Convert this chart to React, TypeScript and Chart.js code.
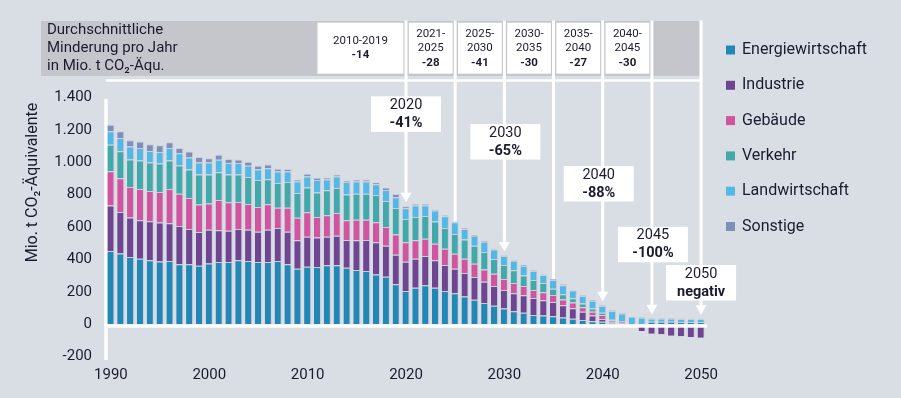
import React, { useEffect, useRef } from 'react';
import { Chart, registerables } from 'chart.js';

Chart.register(...registerables);

const BG = '#d9dde4';
const INK = '#1b1b2f';
const FONT = 'Roboto';

const years = [
  '1990','1991','1992','1993','1994','1995','1996','1997','1998','1999',
  '2000','2001','2002','2003','2004','2005','2006','2007','2008','2009',
  '2010','2011','2012','2013','2014','2015','2016','2017','2018','2019',
  '2020','2021','2022','2023','2024','2025','2026','2027','2028','2029',
  '2030','2031','2032','2033','2034','2035','2036','2037','2038','2039',
  '2040','2041','2042','2043','2044','2045','2046','2047','2048','2049',
  '2050',
];

const energie = [
  452, 437, 415, 405, 396, 388, 390, 370, 370, 362,
  376, 384, 384, 396, 390, 384, 384, 390, 370, 343,
  355, 353, 364, 364, 349, 335, 329, 308, 294, 247,
  206, 226, 241, 226, 206, 192, 171, 151, 132, 114,
  97, 81, 71, 58, 54, 50, 42, 34, 26, 19,
  15, 5, 3, 0, 0, 15, 15, 15, 14, 14,
  14,
];
const industrie = [
  282, 256, 244, 237, 240, 240, 234, 237, 219, 207,
  207, 197, 193, 193, 193, 187, 199, 205, 201, 176,
  185, 183, 176, 182, 172, 184, 192, 199, 191, 182,
  180, 179, 180, 170, 160, 151, 146, 141, 131, 123,
  115, 111, 108, 105, 95, 88, 76, 65, 51, 35,
  18, 6, 4, -10, -41, -59, -61, -70, -74, -78,
  -83,
];
const gebaeude = [
  211, 209, 188, 193, 187, 188, 211, 199, 191, 170,
  162, 186, 176, 166, 160, 153, 158, 125, 149, 138,
  151, 127, 133, 141, 121, 127, 125, 123, 116, 125,
  121, 114, 107, 101, 100, 92, 88, 82, 76, 75,
  68, 63, 58, 49, 49, 43, 35, 35, 29, 23,
  24, 12, 8, 0, 0, 0, 0, 0, 0, 0,
  0,
];
const verkehr = [
  164, 166, 170, 176, 176, 177, 176, 174, 176, 186,
  180, 172, 172, 170, 166, 166, 155, 152, 158, 153,
  154, 151, 154, 154, 160, 160, 160, 168, 160, 164,
  143, 144, 141, 137, 129, 123, 118, 111, 107, 91,
  86, 78, 65, 62, 57, 39, 32, 27, 22, 20,
  14, 5, 6, 0, 0, 0, 0, 0, 0, 0,
  0,
];
const landwirtschaft = [
  82, 82, 80, 78, 71, 71, 78, 76, 74, 74,
  74, 76, 70, 70, 69, 66, 68, 71, 65, 72,
  68, 76, 67, 72, 76, 76, 76, 66, 68, 66,
  66, 71, 65, 68, 72, 72, 66, 61, 63, 59,
  55, 59, 58, 55, 49, 54, 56, 47, 47, 49,
  42, 54, 46, 46, 41, 20, 20, 20, 19, 19,
  19,
];
const sonstige = [
  41, 41, 39, 39, 41, 41, 35, 33, 36, 33,
  26, 31, 26, 22, 25, 22, 22, 17, 15, 10,
  16, 15, 11, 10, 8, 10, 12, 12, 16, 20,
  12, 9, 9, 6, 6, 4, 4, 6, 6, 4,
  4, 4, 6, 4, 4, 4, 6, 4, 4, 5,
  4, 4, 4, 2, 2, 2, 2, 2, 2, 2,
  2,
];

const sectorLabels = ['Energiewirtschaft', 'Industrie', 'Gebäude', 'Verkehr', 'Landwirtschaft', 'Sonstige'];
const sectorColors = ['#2287b5', '#6f4591', '#d0559e', '#41a9aa', '#53b8e4', '#7f8fbb'];
const sectorValues = [energie, industrie, gebaeude, verkehr, landwirtschaft, sonstige];

const yTicks = [-200, 0, 200, 400, 600, 800, 1000, 1200, 1400];

// header: average reduction per year
const headerTitle = ['Durchschnittliche', 'Minderung pro Jahr', 'in Mio. t CO₂-Äqu.'];
const headerSpans = [[2011, 2020], [2020, 2025], [2025, 2030], [2030, 2035], [2035, 2040], [2040, 2045]];
const headerLabels = [['2010-2019'], ['2021-', '2025'], ['2025-', '2030'], ['2030-', '2035'], ['2035-', '2040'], ['2040-', '2045']];
const headerValues = ['-14', '-28', '-41', '-30', '-27', '-30'];

// milestones
const markerYears = [2020, 2025, 2030, 2035, 2040, 2045, 2050];
const arrowYears = [2020, 2030, 2040, 2045, 2050];
const noteYears = [2020, 2030, 2040, 2045, 2050];
const noteValues = ['-41%', '-65%', '-88%', '-100%', 'negativ'];
const noteTops = [1407, 1236, 977, 602, 366];
const noteShift = [0, 1, -4, 1, 0];

const fmt = (v: number) => {
  const a = Math.abs(v);
  const s = a >= 1000 ? Math.floor(a / 1000) + '.' + String(a % 1000).padStart(3, '0') : String(a);
  return (v < 0 ? '-' : '') + s;
};

const overlay = {
  id: 'overlay',
  beforeDraw(chart: any) {
    const { ctx } = chart;
    ctx.save();
    ctx.fillStyle = BG;
    ctx.fillRect(0, 0, chart.width, chart.height);
    ctx.restore();
  },
  beforeDatasetsDraw(chart: any) {
    const { ctx, chartArea, scales } = chart;
    const x = scales.x, y = scales.y;
    const cx = (yr: number) => x.getPixelForValue(years.indexOf(String(yr)));
    const topOf = (yr: number) => {
      const i = years.indexOf(String(yr));
      let s = 0;
      sectorValues.forEach((arr) => { if (arr[i] > 0) s += arr[i]; });
      return y.getPixelForValue(s);
    };
    ctx.save();
    // gray header band
    const bandRight = cx(2050) - 1.5;
    ctx.fillStyle = '#c4c6cb';
    ctx.fillRect(41, 21, bandRight - 41, 55);
    // header title
    ctx.fillStyle = INK;
    ctx.font = `15px ${FONT}`;
    ctx.textAlign = 'left';
    ctx.textBaseline = 'middle';
    headerTitle.forEach((t, i) => ctx.fillText(t, 47, 30.5 + i * 17.8));
    // header boxes
    headerSpans.forEach(([a, b], i) => {
      const l = i === 0 ? cx(a) : cx(a) + 2.8;
      const r = cx(b) - 2.6;
      ctx.fillStyle = '#ffffff';
      ctx.fillRect(l, 22.7, r - l, 51);
      const lines = [...headerLabels[i], headerValues[i]];
      const lh = 14.5;
      const mid = 48.2;
      const start = mid - ((lines.length - 1) * lh) / 2;
      ctx.fillStyle = INK;
      ctx.textAlign = 'center';
      lines.forEach((t, k) => {
        ctx.font = k === lines.length - 1 ? `bold 11.5px ${FONT}` : `11.5px ${FONT}`;
        ctx.fillText(t, (l + r) / 2, start + k * lh);
      });
    });
    // white horizontal rule
    ctx.fillStyle = '#ffffff';
    ctx.fillRect(chartArea.left, 79.3, cx(2050) + 1.5 - chartArea.left, 2.4);
    // vertical marker lines
    markerYears.forEach((yr) => {
      const px = cx(yr);
      const top = topOf(yr);
      const bottom = arrowYears.includes(yr) ? top - 4 - 9 : top;
      ctx.fillRect(px - 1.5, 20.5, 3, bottom - 20.5);
    });
    // y axis line
    ctx.fillRect(chartArea.left - 1.7, 99, 3.4, 360 - 99);
    ctx.restore();
  },
  afterDatasetsDraw(chart: any) {
    const { ctx, chartArea, scales } = chart;
    const x = scales.x, y = scales.y;
    const cx = (yr: number) => x.getPixelForValue(years.indexOf(String(yr)));
    const topOf = (yr: number) => {
      const i = years.indexOf(String(yr));
      let s = 0;
      sectorValues.forEach((arr) => { if (arr[i] > 0) s += arr[i]; });
      return y.getPixelForValue(s);
    };
    ctx.save();
    // zero line
    const y0 = y.getPixelForValue(0);
    ctx.fillStyle = '#ffffff';
    ctx.fillRect(chartArea.left - 1.7, y0, chartArea.right + 1 - (chartArea.left - 1.7), 3.4);
    // arrow heads
    arrowYears.forEach((yr) => {
      const px = cx(yr);
      const tip = topOf(yr) - 4;
      ctx.beginPath();
      ctx.moveTo(px - 5.5, tip - 9.5);
      ctx.lineTo(px + 5.5, tip - 9.5);
      ctx.lineTo(px, tip);
      ctx.closePath();
      ctx.fill();
    });
    // notes
    noteYears.forEach((yr, i) => {
      const c = cx(yr) + noteShift[i];
      const top = y.getPixelForValue(noteTops[i]);
      ctx.fillStyle = '#ffffff';
      ctx.fillRect(c - 35, top, 70, 35.5);
      ctx.fillStyle = INK;
      ctx.textAlign = 'center';
      ctx.textBaseline = 'middle';
      ctx.font = `14.5px ${FONT}`;
      ctx.fillText(String(yr), c, top + 9);
      ctx.font = `bold 14.5px ${FONT}`;
      ctx.fillText(noteValues[i], c, top + 27);
    });
    // legend
    sectorLabels.forEach((lab, i) => {
      const cy = 50 + i * 35.3;
      ctx.fillStyle = sectorColors[i];
      ctx.fillRect(726, cy - 4.5, 9, 9);
      ctx.fillStyle = INK;
      ctx.textAlign = 'left';
      ctx.textBaseline = 'middle';
      ctx.font = `16px ${FONT}`;
      ctx.fillText(lab, 742, cy);
    });
    // y title
    ctx.translate(33, 182.5);
    ctx.rotate(-Math.PI / 2);
    ctx.textAlign = 'center';
    ctx.textBaseline = 'middle';
    ctx.font = `16px ${FONT}`;
    ctx.fillStyle = INK;
    ctx.fillText('Mio. t CO₂-Äquivalente', 0, 0);
    ctx.restore();
  },
};

export default function App() {
  const ref = useRef<HTMLCanvasElement>(null);
  useEffect(() => {
    document.body.style.margin = '0';
    document.body.style.background = BG;
    const chart = new Chart(ref.current as HTMLCanvasElement, {
      type: 'bar',
      data: {
        labels: years,
        datasets: sectorLabels.map((label, i) => ({
          label,
          data: sectorValues[i],
          backgroundColor: sectorColors[i],
          borderColor: 'rgba(200,204,218,0.95)',
          borderWidth: { top: 1, right: 1, bottom: 0, left: 0 },
          borderSkipped: false,
          barPercentage: 0.72,
          categoryPercentage: 1,
        })),
      },
      options: {
        responsive: false,
        animation: false,
        devicePixelRatio: 1,
        layout: { padding: { left: 0, top: 97.5, right: 195, bottom: 0 } },
        plugins: { legend: { display: false }, tooltip: { enabled: false } },
        scales: {
          x: {
            stacked: true,
            grid: { display: false, drawTicks: false },
            border: { display: false },
            ticks: {
              autoSkip: false,
              maxRotation: 0,
              minRotation: 0,
              padding: 10,
              color: INK,
              font: { family: FONT, size: 15 },
              callback: (_v: any, i: number) => (Number(years[i]) % 10 === 0 ? years[i] : ''),
            },
            afterFit: (s: any) => { s.height = 41.3; },
          },
          y: {
            stacked: true,
            min: -200,
            max: 1400,
            afterBuildTicks: (s: any) => { s.ticks = yTicks.map((v) => ({ value: v })); },
            grid: { display: false, drawTicks: false },
            border: { display: false },
            ticks: {
              padding: 14,
              color: INK,
              font: { family: FONT, size: 15 },
              callback: (v: any) => fmt(Number(v)),
            },
            afterFit: (s: any) => { s.width = 106; },
          },
        },
      },
      plugins: [overlay],
    } as any);
    return () => chart.destroy();
  }, []);
  return (
    <div style={{ position: 'fixed', left: 0, top: 0, width: 901, height: 398, background: BG }}>
      <canvas ref={ref} width={901} height={398} style={{ display: 'block', width: 901, height: 398 }} />
    </div>
  );
}
